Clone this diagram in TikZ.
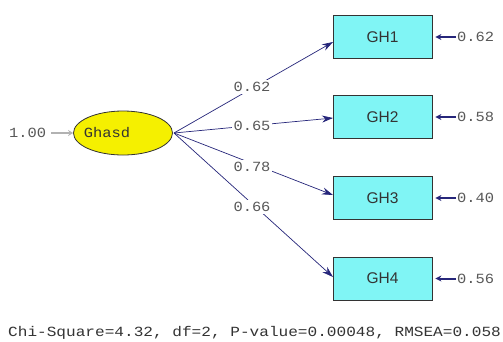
\documentclass[tikz,border=0pt]{standalone}
\usepackage{fontspec}
\setmainfont{Liberation Sans}
\newfontfamily\monofnt[FakeStretch=1.1]{Liberation Mono}
\newfontfamily\monowide[FakeStretch=1.15]{Liberation Mono}
\usetikzlibrary{arrows.meta,shapes.geometric}
\definecolor{navy}{HTML}{26267A}
\definecolor{numgray}{HTML}{585858}
\definecolor{boxcyan}{HTML}{80F5F5}
\definecolor{latyellow}{HTML}{F5F000}
\begin{document}
\begin{tikzpicture}[x=1pt,y=-1pt,
  obsbox/.style={draw=black!80,fill=boxcyan,line width=0.8pt,minimum width=99pt,minimum height=43pt,inner sep=0pt,font=\fontsize{15.5}{15.5}\selectfont,text=black!80},
  latent/.style={ellipse,draw=black!80,fill=latyellow,line width=0.8pt,minimum width=99pt,minimum height=44pt,inner sep=0pt},
  latname/.style={font=\monofnt\fontsize{14}{14}\selectfont,text=black!80,inner sep=0pt},
  numlab/.style={font=\monofnt\fontsize{14}{14}\selectfont,text=numgray,inner sep=1pt},
  pathlab/.style={numlab,fill=white,inner sep=2pt},
  loading/.style={draw=navy,line width=0.7pt,-{Stealth[length=11pt,width=7pt]}},
  errarrow/.style={draw=navy,line width=2pt,-{Stealth[length=6pt,width=6pt]}},
  latarrow/.style={draw=black!30,line width=2pt,-{Stealth[length=5pt,width=6pt]}}
]
\useasboundingbox (0,0) rectangle (503,341);
\fill[white] (0,0) rectangle (503,341);

\node[latent] (L) at (123,133) {};
\node[latname] (Lname) at (107,133) {Ghasd};
\node[numlab,anchor=west] (one) at (8,133) {1.00};

\node[obsbox] (G1) at (382.5,37) {GH1};
\node[obsbox] (G2) at (382.5,117) {GH2};
\node[obsbox] (G3) at (382.5,198) {GH3};
\node[obsbox] (G4) at (382.5,278.5) {GH4};

\coordinate (t1) at (333,42);
\coordinate (t2) at (333,118);
\coordinate (t3) at (333,195);
\coordinate (t4) at (333,277);
\coordinate (s) at (174,133);

\draw[loading] (s) -- (t1);
\draw[loading] (s) -- (t2);
\draw[loading] (s) -- (t3);
\draw[loading] (s) -- (t4);

\node[pathlab] (l1) at (252,87) {0.62};
\node[pathlab] (l2) at (252,126) {0.65};
\node[pathlab] (l3) at (252,167) {0.78};
\node[pathlab] (l4) at (252,207) {0.66};

\draw[latarrow] (one.east) ++(4,0) -- (L.west);

\node[numlab,anchor=west] (e1) at (456,37) {0.62};
\node[numlab,anchor=west] (e2) at (456,117) {0.58};
\node[numlab,anchor=west] (e3) at (456,198) {0.40};
\node[numlab,anchor=west] (e4) at (456,278.5) {0.56};

\draw[errarrow] (e1.west) -- ([xshift=3pt]G1.east);
\draw[errarrow] (e2.west) -- ([xshift=3pt]G2.east);
\draw[errarrow] (e3.west) -- ([xshift=3pt]G3.east);
\draw[errarrow] (e4.west) -- ([xshift=3pt]G4.east);

\node[font=\monowide\fontsize{14}{14}\selectfont,text=black!80,anchor=west,inner sep=0pt] (fit) at (8,333) {Chi-Square=4.32, df=2, P-value=0.00048, RMSEA=0.058};
\end{tikzpicture}
\end{document}
